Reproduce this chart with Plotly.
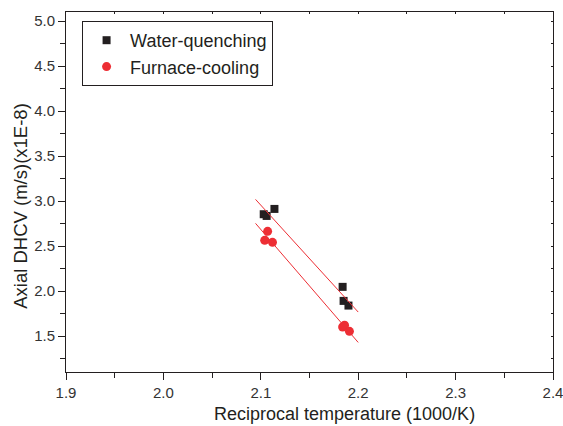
import numpy as np
import plotly.graph_objects as go

# Data
wq_x = [2.103, 2.106, 2.114, 2.184, 2.185, 2.190]
wq_y = [2.853, 2.834, 2.912, 2.046, 1.890, 1.838]
fc_x = [2.107, 2.104, 2.112, 2.184, 2.186, 2.191]
fc_y = [2.663, 2.563, 2.541, 1.600, 1.619, 1.552]
fit_x_range = [2.0946, 2.2]

x_title = "Reciprocal temperature (1000/K)"
y_title = "Axial DHCV (m/s)(x1E-8)"

BLACK = "#231f20"
RED = "#ed2e34"
FONT = "Liberation Sans, Arial, sans-serif"

def fit_line(xs, ys, xr):
    k, b = np.polyfit(xs, ys, 1)
    xx = np.array(xr)
    return xx, k * xx + b

fig = go.Figure()
fig.add_trace(go.Scatter(x=wq_x, y=wq_y, mode="markers", name="Water-quenching",
                         marker=dict(symbol="square", size=8, color=BLACK)))
fig.add_trace(go.Scatter(x=fc_x, y=fc_y, mode="markers", name="Furnace-cooling",
                         marker=dict(symbol="circle", size=9, color=RED)))
lx, ly = fit_line(wq_x, wq_y, fit_x_range)
fig.add_trace(go.Scatter(x=lx, y=ly, mode="lines", showlegend=False,
                         line=dict(color=RED, width=1)))
lx, ly = fit_line(fc_x, fc_y, fit_x_range)
fig.add_trace(go.Scatter(x=lx, y=ly, mode="lines", showlegend=False,
                         line=dict(color=RED, width=1)))
# invisible trace to activate mirror axes
fig.add_trace(go.Scatter(x=[None], y=[None], xaxis="x2", yaxis="y2", showlegend=False))

fig.update_layout(
    width=563, height=426,
    margin=dict(l=66, r=10, t=12, b=54),
    paper_bgcolor="white", plot_bgcolor="white",
    font=dict(family=FONT, color=BLACK, size=16),
    showlegend=True,
    legend=dict(x=0.033, y=0.975, xanchor="left", yanchor="top",
                bordercolor=BLACK, borderwidth=1, bgcolor="white",
                font=dict(size=18, color=BLACK, family=FONT),
                tracegroupgap=0, itemwidth=37),
    xaxis=dict(range=[1.9, 2.4], dtick=0.1, tick0=1.9, tickformat=".1f",
               automargin=False, ticklabeloverflow="allow",
               showgrid=False, zeroline=False, showline=True, linecolor=BLACK,
               linewidth=1, ticks="outside", ticklen=7, tickcolor=BLACK,
               minor=dict(dtick=0.05, ticks="outside", ticklen=5, tickcolor=BLACK),
               tickfont=dict(size=15, color="#333333")),
    yaxis=dict(range=[1.1, 5.1], dtick=0.5, tick0=1.5, tickformat=".1f",
               automargin=False, ticklabeloverflow="allow",
               showgrid=False, zeroline=False, showline=True, linecolor=BLACK,
               linewidth=1, ticks="outside", ticklen=7, tickcolor=BLACK,
               minor=dict(dtick=0.25, tick0=1.25, ticks="outside", ticklen=5, tickcolor=BLACK),
               tickfont=dict(size=15, color="#333333")),
    xaxis2=dict(range=[1.9, 2.4], overlaying="x", side="top", dtick=0.05, tick0=1.9,
                automargin=False,
                showticklabels=False, showgrid=False, zeroline=False, showline=True,
                linecolor=BLACK, ticks="inside", ticklen=2, tickcolor=BLACK),
    yaxis2=dict(range=[1.1, 5.1], overlaying="y", side="right", dtick=0.25, tick0=1.25,
                automargin=False,
                showticklabels=False, showgrid=False, zeroline=False, showline=True,
                linecolor=BLACK, ticks="inside", ticklen=2, tickcolor=BLACK),
    annotations=[
        dict(text=x_title, xref="paper", yref="paper", x=0.571, y=-0.118,
             xanchor="center", yanchor="middle", showarrow=False,
             font=dict(size=18, color=BLACK, family=FONT)),
        dict(text=y_title, xref="paper", yref="paper", x=-0.095, y=0.461,
             xanchor="center", yanchor="middle", showarrow=False, textangle=-90,
             font=dict(size=18.5, color=BLACK, family=FONT)),
    ],
)

fig.write_html(
    "out.html",
    config={"displayModeBar": False},
    post_script="document.body.style.margin='0';"
                "document.querySelectorAll('.main-svg').forEach(function(s){s.style.overflow='visible';});",
)
